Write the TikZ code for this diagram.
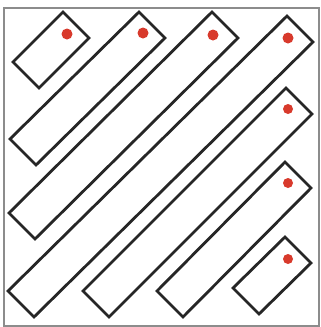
\documentclass[tikz,border=0pt]{standalone}
\usepackage{tikz}
\usetikzlibrary{calc}
\definecolor{dotred}{HTML}{D83A2C}
\colorlet{framegray}{gray!90}
\colorlet{stripblack}{black!85}

\begin{document}
\begin{tikzpicture}[x=1pt,y=-1pt]
\useasboundingbox (0,0) rectangle (321,327);
% outer frame
\draw[framegray,line width=1.2pt] (4,8) rectangle (319,326);
% strips: left corner, top corner, then shifted by the strip width
\foreach \lx/\ly/\tx/\ty in {13/62/63/12, 10/139/139/12, 9/213/212/12, 8/291/287/16,
                             83/291/286/88, 157/291/285/162, 233/288/285/237}
  \draw[stripblack,line width=2.8pt,line join=miter]
    (\lx,\ly) -- (\tx,\ty) -- ($(\tx,\ty)+(26,26)$) -- ($(\lx,\ly)+(26,26)$) -- cycle;
% red marks near the upper ends
\fill[dotred] (67,34) circle (5.5);
\fill[dotred] (143,33) circle (5.5);
\fill[dotred] (213,35) circle (5.5);
\fill[dotred] (288,38) circle (5.5);
\fill[dotred] (288,109) circle (5);
\fill[dotred] (288,183) circle (5);
\fill[dotred] (288,259) circle (5);
\end{tikzpicture}
\end{document}
